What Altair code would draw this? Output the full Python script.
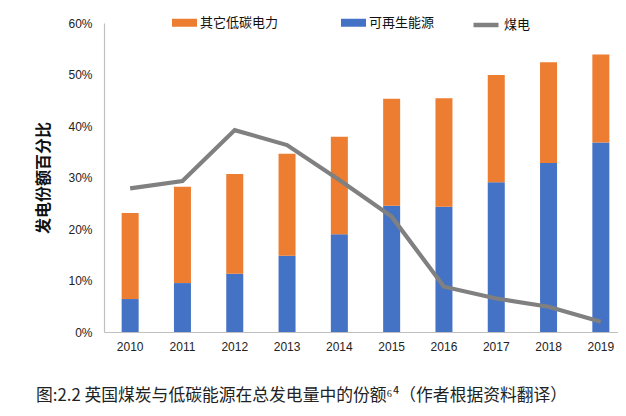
import altair as alt
import pandas as pd

years = ["2010", "2011", "2012", "2013", "2014", "2015", "2016", "2017", "2018", "2019"]
renewable = [6.4, 9.5, 11.3, 14.8, 19.0, 24.5, 24.3, 29.1, 32.8, 36.8]
total_low_carbon = [23.1, 28.2, 30.7, 34.6, 37.9, 45.3, 45.4, 49.9, 52.4, 53.9]
coal = [27.9, 29.3, 39.2, 36.3, 29.5, 22.4, 8.8, 6.5, 4.9, 2.0]
bar_names = ["其它低碳电力", "可再生能源"]
bar_colors = ["#ED7D31", "#4472C4"]
line_name = "煤电"
line_color = "#808080"
y_ticks = [0, 0.1, 0.2, 0.3, 0.4, 0.5, 0.6]

rows = []
for i, yr in enumerate(years):
    rows.append({"year": yr, "series": "可再生能源", "value": renewable[i] / 100, "ord": 0})
    rows.append({"year": yr, "series": "其它低碳电力", "value": (total_low_carbon[i] - renewable[i]) / 100, "ord": 1})
bars_df = pd.DataFrame(rows)
coal_df = pd.DataFrame({"year": years, "value": [c / 100 for c in coal], "series": line_name})

FONT = "Liberation Sans"
CJK = "Noto Sans CJK SC"

x_enc = alt.X("year:N", sort=years, title=None,
              scale=alt.Scale(paddingInner=0, paddingOuter=0, range=[0, 523]),
              axis=alt.Axis(labelAngle=0, ticks=False, domainColor="#BFBFBF", domainWidth=1.2,
                            labelFont=FONT, labelFontSize=12, labelColor="#222", labelPadding=9))

bars = alt.Chart(bars_df).mark_bar(size=17).encode(
    x=x_enc,
    y=alt.Y("value:Q", stack="zero",
            scale=alt.Scale(domain=[0, 0.6], nice=False),
            axis=alt.Axis(values=y_ticks, format="0%", grid=False, ticks=False,
                          domainColor="#BFBFBF", domainWidth=1.2,
                          labelFont=FONT, labelFontSize=12, labelColor="#222", labelPadding=12,
                          title="发电份额百分比", titleFont=CJK, titleFontSize=16,
                          titleFontWeight="bold", titleColor="#111", titlePadding=16)),
    color=alt.Color("series:N",
                    scale=alt.Scale(domain=bar_names, range=bar_colors),
                    legend=alt.Legend(
                        title=None, orient="none", direction="horizontal",
                        legendX=68, legendY=-13,
                        labelFont=CJK, labelFontSize=13, labelColor="#111",
                        symbolType="M-1,-0.32H1V0.32H-1Z",
                        symbolSize=625, symbolStrokeWidth=0, labelOffset=3,
                        columnPadding=62, symbolOpacity=1)),
    order=alt.Order("ord:Q"),
)

line = alt.Chart(coal_df).mark_line(strokeWidth=4.2).encode(
    x=alt.X("year:N", sort=years),
    y=alt.Y("value:Q"),
    stroke=alt.Stroke("series:N",
                      scale=alt.Scale(domain=[line_name], range=[line_color]),
                      legend=alt.Legend(
                          title=None, orient="none", direction="horizontal",
                          legendX=367, legendY=-13,
                          labelFont=CJK, labelFontSize=13, labelColor="#111",
                          symbolType="stroke", symbolSize=625, symbolStrokeWidth=4.5,
                          labelOffset=3)),
)

chart = alt.layer(bars, line).resolve_scale(color="independent").properties(
    width=514, height=309,
    padding={"left": 96, "top": 15, "right": 0, "bottom": 76},
    autosize=alt.AutoSizeParams(type="none"),
    title=alt.TitleParams(
        "图:2.2 英国煤炭与低碳能源在总发电量中的份额⁶⁴（作者根据资料翻译）",
        orient="bottom", anchor="start", dx=0, offset=36,
        font=CJK, fontSize=16.8, fontWeight="normal", color="#222"),
).configure_view(stroke=None)

chart.save("out.html", embed_options={"renderer": "svg", "actions": False})
